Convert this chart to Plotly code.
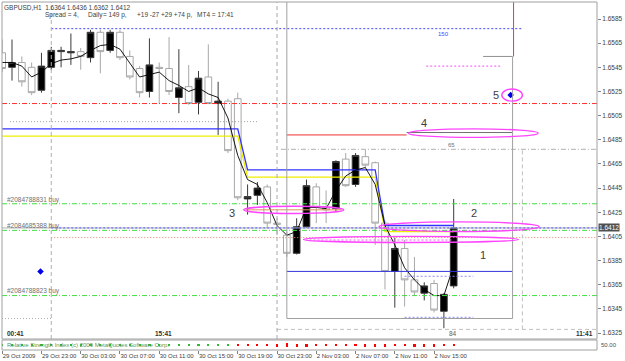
import plotly.graph_objects as go

# ---------------- data ----------------
bars = list(range(47))
opens = [1.6557, 1.6545, 1.6549, 1.6545, 1.6526, 1.6545, 1.6558, 1.6557, 1.6558, 1.6553,
         1.6574, 1.6559, 1.6574, 1.6554, 1.6544, 1.6525, 1.6545, 1.6544, 1.6520, 1.6529,
         1.6516, 1.6537, 1.6515, 1.6517, 1.6519, 1.6436, 1.6439, 1.6446, 1.6416, 1.6406,
         1.6391, 1.6413, 1.6446, 1.6429, 1.6428, 1.6469, 1.6448, 1.6471, 1.6466, 1.6416,
         1.6376, 1.6395, 1.6369, 1.6358, 1.6366, 1.6343, 1.6364]
highs = [1.6568, 1.6568, 1.6554, 1.6549, 1.6557, 1.6562, 1.6562, 1.6573, 1.6561, 1.6576,
         1.6576, 1.6576, 1.6576, 1.6559, 1.6546, 1.6569, 1.6549, 1.6570, 1.6560, 1.6547,
         1.6542, 1.6564, 1.6533, 1.6519, 1.6524, 1.6448, 1.6450, 1.6448, 1.6420, 1.6409,
         1.6420, 1.6452, 1.6449, 1.6443, 1.6468, 1.6474, 1.6474, 1.6477, 1.6467, 1.6418,
         1.6404, 1.6402, 1.6388, 1.6367, 1.6369, 1.6358, 1.6436]
lows = [1.6541, 1.6534, 1.6529, 1.6522, 1.6524, 1.6543, 1.6545, 1.6547, 1.6543, 1.6549,
        1.6540, 1.6557, 1.6551, 1.6535, 1.6520, 1.6520, 1.6515, 1.6522, 1.6507, 1.6514,
        1.6506, 1.6515, 1.6489, 1.6474, 1.6435, 1.6423, 1.6431, 1.6412, 1.6406, 1.6388,
        1.6390, 1.6412, 1.6416, 1.6416, 1.6426, 1.6446, 1.6446, 1.6462, 1.6398, 1.6361,
        1.6346, 1.6347, 1.6356, 1.6352, 1.6342, 1.6329, 1.6362]
closes = [1.6544, 1.6549, 1.6533, 1.6524, 1.6546, 1.6559, 1.6559, 1.6558, 1.6554, 1.6574,
          1.6558, 1.6574, 1.6553, 1.6537, 1.6524, 1.6547, 1.6544, 1.6525, 1.6528, 1.6515,
          1.6536, 1.6515, 1.6517, 1.6476, 1.6437, 1.6438, 1.6445, 1.6416, 1.6415, 1.6391,
          1.6413, 1.6447, 1.6429, 1.6427, 1.6467, 1.6447, 1.6472, 1.6464, 1.6416, 1.6376,
          1.6395, 1.6369, 1.6359, 1.6364, 1.6344, 1.6357, 1.6412]
ma_line = [1.6549, 1.6549, 1.6546, 1.6537, 1.6541, 1.6548, 1.6551, 1.6552, 1.6554, 1.6559,
           1.6563, 1.6564, 1.6560, 1.6549, 1.6537, 1.6539, 1.6541, 1.6534, 1.6530, 1.6525,
           1.6528, 1.6523, 1.6520, 1.6503, 1.6472, 1.6452, 1.6448, 1.6433, 1.6414, 1.6406,
           1.6409, 1.6429, 1.6429, 1.6428, 1.6443, 1.6455, 1.6460, 1.6462, 1.6448, 1.6414,
           1.6398, 1.6379, 1.6369, 1.6361, 1.6356, 1.6356, 1.6381]

step_bars = [0, 24, 25, 38, 39, 46]
blue_step = [1.6494, 1.6494, 1.6460, 1.6460, 1.6414, 1.6414]
yellow_step = [1.6488, 1.6488, 1.6454, 1.6454, 1.6409, 1.6409]

osc_values = [0.15, 0.15, 0.15, 0.15, 0.15, 0.15, 0.15, 0.15, 0.15, 0.15, 0.15, 0.15,
              0.15, 0.15, 0.15, 0.15, 0.15, 0.15, 0.15, 0.15, 0.15, 0.15, 0.15, 0.15,
              -0.2, -0.2, -0.25, -0.25, -0.3, -0.35, -0.3, -0.3, -0.25, -0.2, -0.2, -0.25,
              -0.25, -0.3, -0.3, -0.3, -0.25, -0.25, -0.3, -0.3, -0.3, -0.25, -0.2]

date_tick_bars = [0, 4, 8, 12, 16, 20, 24, 28, 32, 36, 40, 44]
date_tick_text = ["29 Oct 2009", "29 Oct 23:00", "30 Oct 03:00", "30 Oct 07:00", "30 Oct 11:00",
                  "30 Oct 15:00", "30 Oct 19:00", "30 Oct 23:00", "2 Nov 03:00", "2 Nov 07:00",
                  "2 Nov 11:00", "2 Nov 15:00"]
price_ticks = [1.6325, 1.6345, 1.6365, 1.6385, 1.6405, 1.6425, 1.6445, 1.6465, 1.6485,
               1.6505, 1.6525, 1.6545, 1.6565, 1.6585]
price_tick_text = ["1.6325", "1.6345", "1.6365", "1.6385", "1.6405", "1.6425", "1.6445",
                   "1.6465", "1.6485", "1.6505", "1.6525", "1.6545", "1.6565", "1.6585"]

bid_price = 1.6412
red_level = 1.6515
buy_levels = [1.6432, 1.6410, 1.6356]
buy_labels = ["#2084788831 buy", "#2084685388 buy", "#2084788823 buy"]

# ---------------- figure ----------------
FONT = "Liberation Sans"
X_END = 60.6
MAIN_BOTTOM = 11 / 348
SUB_TOP = 10 / 348
DASHDOT = "5px,2px,1px,2px"
DOT = "2px,2px"
FINEDOT = "1px,2px"
DASH = "4px,3px"

fig = go.Figure()
fig.add_trace(go.Candlestick(
    x=bars, open=opens, high=highs, low=lows, close=closes,
    increasing=dict(line=dict(color="#3a3a3a", width=1), fillcolor="#000000"),
    decreasing=dict(line=dict(color="#a8a8a8", width=1), fillcolor="#ffffff"),
    showlegend=False, hoverinfo="skip", xaxis="x", yaxis="y"))
fig.add_trace(go.Scatter(x=step_bars, y=yellow_step, mode="lines",
                         line=dict(color="#eeee00", width=1.3), showlegend=False,
                         hoverinfo="skip", xaxis="x", yaxis="y"))
fig.add_trace(go.Scatter(x=step_bars, y=blue_step, mode="lines",
                         line=dict(color="#3333ff", width=1.3), showlegend=False,
                         hoverinfo="skip", xaxis="x", yaxis="y"))
fig.add_trace(go.Scatter(x=bars, y=ma_line, mode="lines",
                         line=dict(color="#000000", width=0.9), showlegend=False,
                         hoverinfo="skip", xaxis="x", yaxis="y"))
fig.add_trace(go.Bar(x=bars, y=[abs(v) for v in osc_values],
                     base=[0.5 - abs(v) / 2 for v in osc_values],
                     marker=dict(color=["#33bb33" if v > 0 else "#ff0000" for v in osc_values],
                                 line=dict(width=0)),
                     width=0.22, showlegend=False, hoverinfo="skip", xaxis="x", yaxis="y2"))
fig.add_trace(go.Scatter(x=[51.8, 3.9], y=[1.6522, 1.6376], mode="markers",
                         marker=dict(symbol="diamond", size=5, color="#0000ee"),
                         showlegend=False, hoverinfo="skip", xaxis="x", yaxis="y"))


def seg(x0, x1, y0, y1, color, width=1.0, dash="solid", xref="x", yref="y"):
    fig.add_shape(type="line", x0=x0, x1=x1, y0=y0, y1=y1, xref=xref, yref=yref,
                  line=dict(color=color, width=width, dash=dash), layer="above")


def hl(y, x0, x1, color, dash="solid", width=1.0):
    seg(x0, x1, y, y, color, width, dash)


def vl(x, y0, y1, color, dash="solid", width=1.0, yref="y"):
    seg(x, x, y0, y1, color, width, dash, yref=yref)


def ell(x0, x1, y0, y1):
    fig.add_shape(type="circle", x0=x0, x1=x1, y0=y0, y1=y1, xref="x", yref="y",
                  line=dict(color="#ff44ff", width=1.4), layer="above")


# full-width levels
hl(bid_price, -0.02, X_END, "#b0b0b0", "solid", 1)
hl(red_level, -0.02, X_END, "#ff3030", DASHDOT, 1)
for lv in buy_levels:
    hl(lv, -0.02, X_END, "#44dd44", DASHDOT, 1)

# partial levels
hl(1.6577, 5, 53, "#4444ff", DOT, 1)
hl(1.6500, 0.8, 26, "#a0a0a0", FINEDOT, 1)
hl(1.6477, 28.4, X_END, "#c0c0c0", DASHDOT, 1.2)
hl(1.6412, 5, X_END, "#5555ff", DOT, 1)
hl(1.6404, 5, X_END, "#e08866", FINEDOT, 1)
hl(1.6376, 29, 52, "#3333dd", "solid", 1)
hl(1.6328, 28, X_END, "#c0c0c0", DASH, 1)
hl(1.6337, -0.02, 5, "#b0b0b0", FINEDOT, 1)
hl(1.6337, 29, 52, "#a0a0a0", "solid", 1)
hl(1.6338, 41, 48, "#8888ff", DOT, 1)
hl(1.6372, 41, 48, "#8888ff", DOT, 1)
hl(1.6489, 29, 41.2, "#ee3333", "solid", 1)
hl(1.6491, 41.2, 52, "#707070", "solid", 1)
hl(1.6554, 49, 52, "#909090", "solid", 1)
hl(1.6546, 43.2, 50.8, "#ee55ee", DOT, 1)
hl(1.6427, 24.8, 34.6, "#e09060", "solid", 1)
hl(1.6402, 30.9, 45.8, "#ee66ee", DOT, 1)

# vertical lines
vl(5, 0, 1, "#b0b0b0", DASH, 1, yref="y domain")
vl(28, 0, 1, "#a8a8a8", DASH, 1, yref="y domain")
vl(29, 1.6337, 1.6599, "#a0a0a0", "solid", 1)
vl(52, 1.6337, 1.6554, "#a0a0a0", "solid", 1)
vl(52.1, 1.6554, 1.6599, "#ff3030", "solid", 1)
vl(53, 1.6328, 1.6477, "#c0c0c0", DASH, 1)

# ellipses
ell(24.6, 34.8, 1.6424, 1.6430)
ell(38.4, 54.7, 1.6409, 1.6417)
ell(30.7, 52.6, 1.6400, 1.6405)
ell(41.4, 54.6, 1.6487, 1.6494)
ell(50.9, 53.0, 1.6517, 1.6527)

# frames
fig.add_shape(type="rect", xref="paper", yref="paper", x0=0, x1=1, y0=MAIN_BOTTOM, y1=1,
              line=dict(color="#a0a0a0", width=1), layer="above")
fig.add_shape(type="rect", xref="paper", yref="paper", x0=0, x1=1, y0=0, y1=SUB_TOP,
              line=dict(color="#a0a0a0", width=1), layer="above")

anns = []


def txt(x, y, s, size=6.5, color="#505050", xanchor="left", yanchor="middle",
        xref="x", yref="y", bold=False, bg=None):
    d = dict(x=x, y=y, text=("<b>%s</b>" % s) if bold else s, xref=xref, yref=yref,
             xanchor=xanchor, yanchor=yanchor, showarrow=False,
             font=dict(family=FONT, size=size, color=color))
    if bg:
        d["bgcolor"] = bg
        d["borderpad"] = 0
    anns.append(d)


# header texts
txt(0, 1, "GBPUSD,H1&nbsp;&nbsp;1.6364 1.6436 1.6362 1.6412", xref="paper", yref="paper",
    yanchor="top", color="#404040")
for xs, s in [(41, "Spread = 4,"), (84, "Daily"), (99, "= 149 p,"),
              (133, "+19 -27 +29 +74 p,"), (193, "MT4 = 17:41")]:
    txt(0, 1, s, xref="paper", yref="paper", yanchor="top", color="#404040")
    anns[-1]["xshift"] = xs
    anns[-1]["yshift"] = -7

for lv, lb in zip(buy_levels, buy_labels):
    txt(0.3, lv + 0.00035, lb, color="#707070")

txt(23.4, 1.6424, "3", size=11, color="#404040", xanchor="center")
txt(48.1, 1.6424, "2", size=11, color="#404040", xanchor="center")
txt(49.0, 1.6390, "1", size=11, color="#404040", xanchor="center")
txt(43.0, 1.6499, "4", size=11, color="#404040", xanchor="center")
txt(50.3, 1.6522, "5", size=11, color="#404040", xanchor="center")
txt(45.0, 1.6573, "150", size=6, color="#4444ff", xanchor="center")
txt(45.8, 1.6481, "65", size=6, color="#707070", xanchor="center")
txt(45.9, 1.6325, "84", size=6.5, color="#606060", xanchor="center")

txt(0.005, 17 / 348, "00:41", color="#303030", yref="paper", xref="paper", bold=True)
txt(0.253, 17 / 348, "15:41", color="#303030", yref="paper", xref="paper", bold=True)
txt(0.997, 17 / 348, "11:41", color="#303030", yref="paper", xref="paper", bold=True,
    xanchor="right")

txt(1, bid_price, "1.6412", color="#ffffff", xref="paper", bg="#505050")
anns[-1]["xshift"] = 1

txt(0.005, SUB_TOP / 2, "Relative Strength Index (c) 2009 MetaQuotes Software Corp.",
    size=6, color="#559955", xref="paper", yref="paper")
txt(1, SUB_TOP / 2, "50.00", size=6, color="#505050", xref="paper", yref="paper")
anns[-1]["xshift"] = 2

fig.update_layout(
    width=625, height=361,
    margin=dict(l=2, r=23, t=2, b=11),
    paper_bgcolor="#ffffff", plot_bgcolor="#ffffff",
    showlegend=False, bargap=0, boxgap=0.2, boxgroupgap=0.15,
    annotations=anns,
    xaxis=dict(domain=[0, 1], range=[-0.02, X_END], anchor="y2",
               tickvals=date_tick_bars, ticktext=date_tick_text, tickangle=0,
               ticks="outside", ticklen=3, tickcolor="#808080",
               ticklabelposition="outside right",
               tickfont=dict(family=FONT, size=6, color="#404040"),
               showgrid=False, zeroline=False, showline=False,
               rangeslider=dict(visible=False)),
    yaxis=dict(domain=[MAIN_BOTTOM, 1], range=[1.632004, 1.659908], anchor="x",
               side="right", tickvals=price_ticks, ticktext=price_tick_text,
               ticks="outside", ticklen=3, tickcolor="#808080",
               tickfont=dict(family=FONT, size=6.5, color="#404040"),
               showgrid=False, zeroline=False, showline=False),
    yaxis2=dict(domain=[0, SUB_TOP], range=[0, 1], anchor="x",
                showticklabels=False, ticks="", showgrid=False, zeroline=False),
)

fig.write_html("out.html")
